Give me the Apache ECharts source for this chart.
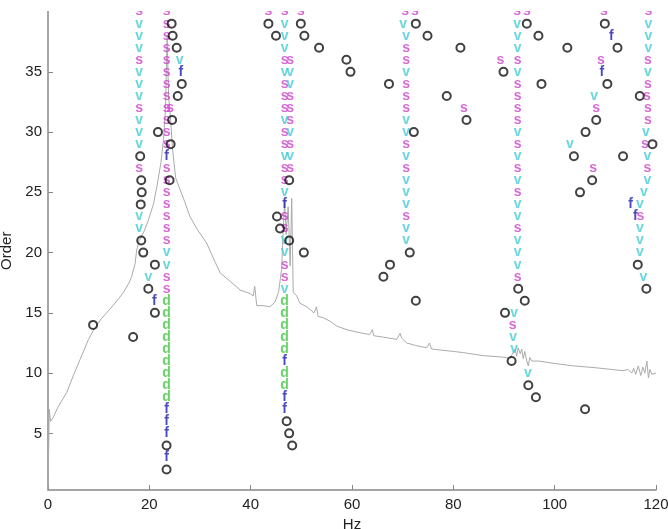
<!DOCTYPE html>
<html>
<head>
<meta charset="utf-8">
<script src="https://cdn.jsdelivr.net/npm/echarts@6/dist/echarts.min.js"></script>
<style>
  html, body { margin: 0; padding: 0; background: #fff; }
  #chart { width: 668px; height: 529px; }
</style>
</head>
<body>
<div id="chart"></div>
<script>
// frequency response curve (Hz, scaled to order axis)
var spectrum = [
    [0, 0.3], [0.25, 7.0], [0.5, 6.0], [1, 6.3], [2, 7.2], [3.7, 8.4], [5, 9.8], [6.3, 11.1],
    [8, 12.8], [8.9, 13.5], [10.5, 14.5], [12.2, 15.3], [14, 16.2], [14.9, 16.7], [16, 17.5],
    [16.5, 18.0], [17.2, 19.1], [17.5, 20.2], [18, 21], [19, 21.8], [19.8, 22.7], [20.8, 24],
    [21.5, 25.5], [22.3, 27.5], [22.8, 29.4], [23.2, 32], [23.5, 38], [23.8, 33], [24.2, 31],
    [24.6, 28.5], [25.2, 26.2], [26, 25.3], [27, 24.2], [28, 23.0], [29.5, 21.9], [31.3, 20.8],
    [33, 19.2], [34, 18.3], [36, 17.6], [37.9, 16.9], [39.9, 16.6], [40.5, 16.4], [40.8, 17.2],
    [41.2, 15.6], [42.5, 15.6], [43.8, 15.5], [44.8, 15.9], [45.5, 16.7], [46.1, 18.6],
    [46.4, 21.6], [46.7, 24.3], [47.0, 21.5], [47.4, 23.8], [47.8, 18.9], [48.1, 24.5],
    [48.4, 16.7], [49.1, 16.4], [49.7, 15.8], [51.1, 15.5], [52.5, 15.0], [53, 15.5], [53.3, 14.7],
    [54.3, 14.6], [55.7, 14.3], [57, 13.9], [59, 13.6], [61, 13.4], [63.5, 13.2], [64.0, 13.6],
    [64.3, 13.1], [66, 13.0], [68.8, 12.8], [69.5, 13.3], [69.8, 12.9], [70.8, 12.5], [72.5, 12.3],
    [74.7, 12.1], [75.3, 12.5], [75.7, 12.0], [76.7, 11.95], [80, 11.8], [82, 11.7], [85.9, 11.45],
    [89.2, 11.35], [91.2, 11.25], [91.8, 11.7], [92.2, 12.0], [92.5, 11.4], [92.8, 12.1],
    [93.2, 11.6], [93.5, 12.0], [93.8, 11.2], [94.1, 11.8], [94.5, 11.0], [94.8, 10.6], [95.1, 11.3],
    [95.5, 11.0], [96.8, 11.0], [100, 10.8], [103.7, 10.6], [108, 10.45], [113.5, 10.2],
    [114.5, 10.3], [115.2, 10.0], [115.6, 10.4], [116, 9.9], [116.5, 10.6], [117, 9.8],
    [117.4, 10.5], [117.8, 10.0], [118.2, 11.0], [118.5, 9.6], [118.8, 10.3], [119.2, 9.9], [120, 10.0]
];

// stable in frequency, damping and mode shape
var polesS = [
    [18.0, 40], [23.4, 40], [43.5, 40], [46.7, 40], [49.9, 40], [70.5, 40], [72.4, 40], [92.6, 40], [94.5, 40], [109.7, 40], [118.5, 40],
    [23.4, 39], [23.4, 38], [23.4, 37], [70.7, 37],
    [18.0, 36], [23.4, 36], [46.7, 36], [47.8, 36], [70.7, 36], [89.3, 36], [92.7, 36], [109.1, 36], [118.4, 36],
    [23.4, 35],
    [23.4, 34], [46.7, 34], [70.7, 34], [92.7, 34], [118.4, 34],
    [23.4, 33], [46.7, 33], [47.8, 33], [70.7, 33], [92.7, 33], [118.2, 33],
    [18.0, 32], [23.4, 32], [24.1, 32], [46.7, 32], [47.8, 32], [70.7, 32], [82.1, 32], [92.7, 32], [108.2, 32], [118.4, 32],
    [23.4, 31], [47.8, 31], [92.7, 31], [118.4, 31],
    [23.4, 30], [46.7, 30],
    [23.4, 29], [46.7, 29], [47.8, 29], [70.7, 29], [92.7, 29], [117.8, 29],
    [18.0, 27], [23.4, 27], [46.7, 27], [47.8, 27], [70.7, 27], [92.7, 27], [107.6, 27], [118.3, 27],
    [23.4, 26], [46.7, 26],
    [23.4, 25], [92.7, 25],
    [23.4, 24],
    [23.4, 23], [46.7, 23], [70.7, 23], [116.9, 23],
    [23.4, 22], [46.7, 22], [92.7, 22],
    [23.4, 21],
    [46.7, 19],
    [23.4, 18], [46.7, 18], [92.7, 18],
    [23.4, 17],
    [91.7, 14]
];

// stable in frequency and mode shape
var polesV = [
    [18.0, 39], [46.7, 39], [70.1, 39], [92.6, 39], [118.5, 39],
    [18.0, 38], [46.7, 38], [70.7, 38], [92.7, 38], [118.5, 38],
    [18.0, 37], [46.7, 37], [92.7, 37], [118.5, 37],
    [26.0, 36],
    [18.0, 35], [46.7, 35], [47.8, 35], [70.7, 35], [92.7, 35], [118.4, 35],
    [18.0, 34], [47.8, 34],
    [18.0, 33], [107.8, 33],
    [18.0, 31], [46.7, 31], [70.7, 31],
    [18.0, 30], [47.8, 30], [70.7, 30], [92.7, 30], [118.0, 30],
    [18.0, 29], [103.0, 29],
    [46.7, 28], [47.8, 28], [70.7, 28], [92.7, 28], [118.3, 28],
    [70.7, 26], [92.7, 26], [118.3, 26],
    [46.7, 25], [70.7, 25], [117.6, 25],
    [70.7, 24], [92.7, 24], [116.8, 24],
    [18.0, 23], [92.7, 23],
    [18.0, 22], [70.7, 22], [116.8, 22],
    [46.7, 21], [70.7, 21], [92.7, 21], [116.8, 21],
    [23.4, 20], [46.7, 20], [92.7, 20], [116.8, 20],
    [23.4, 19], [92.7, 19],
    [19.8, 18], [117.5, 18],
    [46.7, 17],
    [92.0, 15], [91.8, 13], [92.0, 12], [94.7, 10]
];

// stable in frequency
var polesF = [
    [111.2, 38], [26.2, 35], [109.3, 35], [23.4, 28], [46.7, 24], [115.0, 24], [115.9, 23],
    [21.0, 16], [46.7, 11], [46.7, 8], [46.7, 7], [23.4, 7], [23.4, 6], [23.4, 5], [23.4, 3]
];

// stable in frequency and damping
var polesD = [
    [23.4, 16], [23.4, 15], [23.4, 14], [23.4, 13], [23.4, 12], [23.4, 11], [23.4, 10], [23.4, 9], [23.4, 8],
    [46.7, 16], [46.7, 15], [46.7, 14], [46.7, 13], [46.7, 12], [46.7, 10], [46.7, 9]
];

// new (unstable) poles
var polesO = [
    [24.4, 39], [43.5, 39], [49.9, 39], [72.6, 39], [94.5, 39], [109.9, 39],
    [24.6, 38], [45.0, 38], [50.6, 38], [74.9, 38], [96.8, 38],
    [25.4, 37], [53.5, 37], [81.4, 37], [102.5, 37], [112.4, 37],
    [58.9, 36],
    [59.7, 35], [89.9, 35],
    [26.4, 34], [67.3, 34], [97.4, 34], [110.4, 34],
    [25.6, 33], [78.7, 33], [116.8, 33],
    [24.5, 31], [82.6, 31], [108.2, 31],
    [21.7, 30], [72.2, 30], [106.1, 30],
    [24.2, 29], [119.3, 29],
    [18.2, 28], [103.8, 28], [113.5, 28],
    [18.4, 26], [24.0, 26], [47.6, 26], [107.4, 26],
    [18.5, 25], [105.0, 25],
    [18.3, 24],
    [45.2, 23],
    [45.8, 22],
    [18.4, 21], [47.6, 21],
    [18.8, 20], [50.5, 20], [71.4, 20],
    [21.1, 19], [67.5, 19], [116.4, 19],
    [66.2, 18],
    [19.8, 17], [92.8, 17], [118.1, 17],
    [72.6, 16], [94.1, 16],
    [21.1, 15], [90.2, 15],
    [8.9, 14], [16.8, 13], [91.5, 11], [94.8, 9], [96.3, 8], [106.0, 7],
    [47.1, 6], [47.6, 5], [23.4, 4], [48.2, 4], [23.4, 2]
];

var xTicks = [0, 20, 40, 60, 80, 100, 120];
var yTicks = [5, 10, 15, 20, 25, 30, 35];

function letterSeries(name, data, letter, color) {
    return {
        name: name,
        type: 'scatter',
        data: data,
        symbol: 'circle',
        symbolSize: 2,
        itemStyle: { color: 'transparent' },
        label: {
            show: true,
            position: 'inside',
            formatter: letter,
            color: color,
            fontSize: 14,
            fontWeight: 'bold',
            fontFamily: 'Liberation Sans, Arial, sans-serif'
        },
        clip: false,
        z: 3
    };
}

var myChart = echarts.init(document.getElementById('chart'), null, { renderer: 'canvas' });

var option = {
    backgroundColor: '#fff',
    animation: false,
    grid: {
        left: 48,
        right: 12,
        top: 11.6,
        bottom: 39,
        containLabel: false,
        outerBoundsMode: 'none'
    },
    xAxis: {
        type: 'value',
        min: 0,
        max: 120,
        interval: 20,
        name: 'Hz',
        nameLocation: 'middle',
        nameGap: 22,
        nameTextStyle: { color: '#222', fontSize: 15, fontFamily: 'Liberation Sans, Arial' },
        splitLine: { show: false },
        axisLine: { lineStyle: { color: '#888', width: 1.5 } },
        axisTick: { inside: true, length: 5, lineStyle: { color: '#888' } },
        axisLabel: {
            color: '#222', fontSize: 15, margin: 7,
            fontFamily: 'Liberation Sans, Arial',
            customValues: xTicks
        }
    },
    yAxis: {
        type: 'value',
        min: 0.3,
        max: 40,
        name: 'Order',
        nameLocation: 'middle',
        nameGap: 27,
        nameTextStyle: { color: '#222', fontSize: 15, fontFamily: 'Liberation Sans, Arial' },
        splitLine: { show: false },
        axisLine: { lineStyle: { color: '#888', width: 1.5 } },
        axisTick: { inside: true, length: 5, lineStyle: { color: '#888' }, customValues: yTicks },
        axisLabel: {
            color: '#222', fontSize: 15, margin: 6,
            fontFamily: 'Liberation Sans, Arial',
            customValues: yTicks
        }
    },
    graphic: [{
        type: 'rect',
        left: 0, top: 0,
        shape: { width: 668, height: 11 },
        style: { fill: '#fff' },
        z: 100
    }],
    series: [
        {
            name: 'spectrum',
            type: 'line',
            data: spectrum,
            showSymbol: false,
            lineStyle: { color: '#aaaaaa', width: 1 },
            z: 1
        },
        letterSeries('s', polesS, 's', '#cc44cc'),
        letterSeries('v', polesV, 'v', '#44ccd4'),
        letterSeries('f', polesF, 'f', '#1c1cb0'),
        letterSeries('d', polesD, 'd', '#44c844'),
        {
            name: 'o',
            type: 'scatter',
            data: polesO,
            symbol: 'circle',
            symbolSize: 8,
            itemStyle: { color: 'transparent', borderColor: '#111', borderWidth: 2 },
            clip: false,
            z: 4
        }
    ]
};

myChart.setOption(option);
</script>
</body>
</html>
